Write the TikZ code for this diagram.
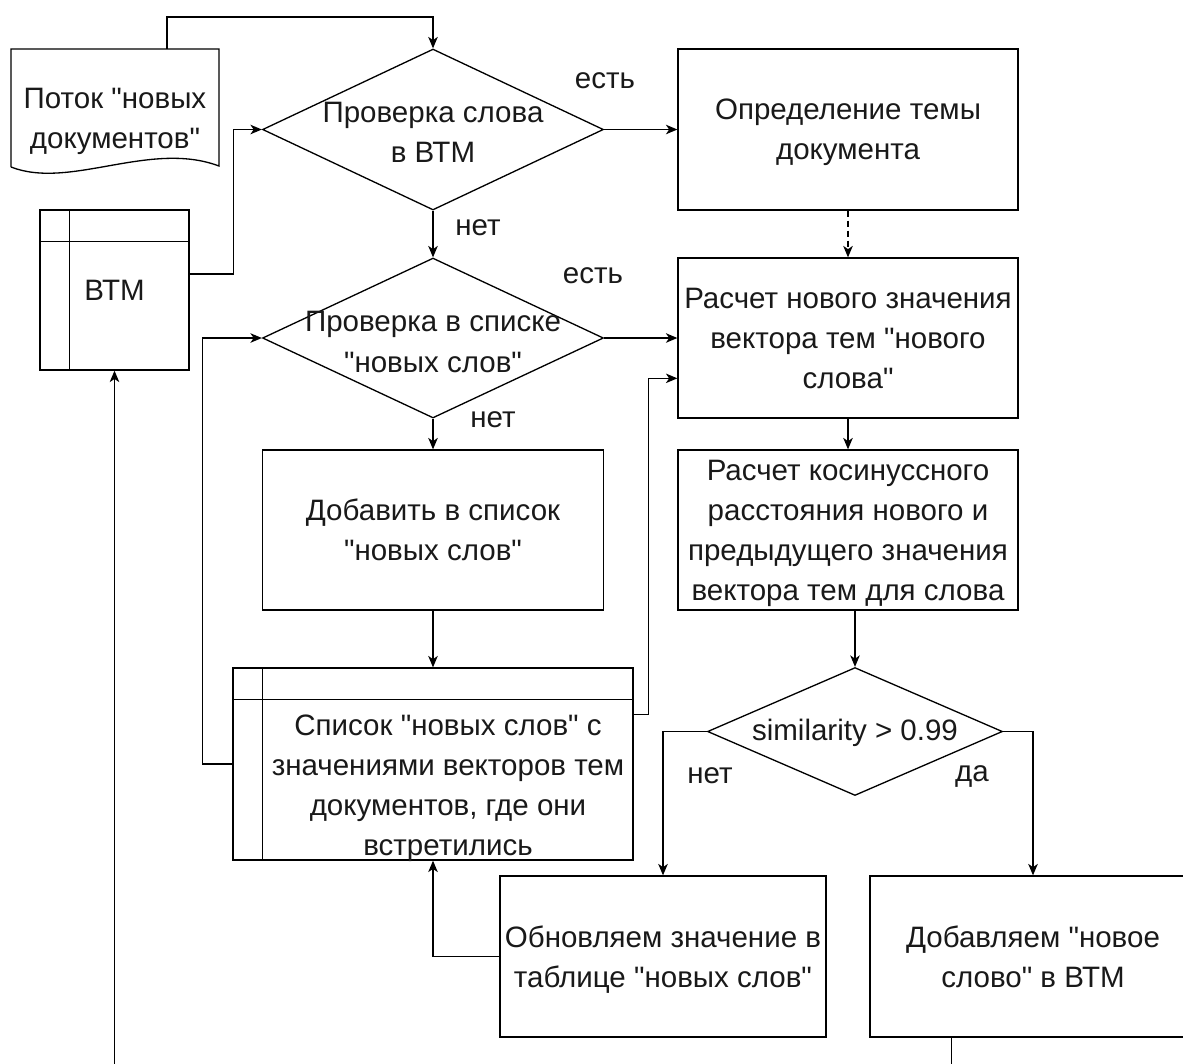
\documentclass[tikz,border=0pt]{standalone}
\usepackage{fontspec}
\setmainfont{Liberation Sans}[Ligatures=TeXOff]
\usetikzlibrary{arrows.meta,calc,shapes.geometric}

\begin{document}
\begin{tikzpicture}[x=0.02cm,y=-0.02cm,
  line width=0.75pt,
  txt/.style={font=\fontsize{16.8}{22.8}\selectfont, align=center, inner sep=0pt, text=black!90},
  box/.style={draw, rectangle, txt, text depth=0pt, minimum width=#1},
  box/.default=6.8cm,
  dec/.style={draw, diamond, inner sep=0pt},
  arr/.style={-{Stealth[length=6.5pt,width=5.4pt,inset=1.8pt]}},
  lbl/.style={txt}
]
\useasboundingbox (0,0) rectangle (1183,1063);

% --- input stream (document shape) ---
\draw (11,167) -- (11,49) -- (219,49) -- (219,166)
      .. controls (150,140) and (70,190) .. (11,167);
\coordinate (docTop) at (167,49);
\node[txt] (doctxt) at (115,121) {Поток "новых\\документов"};

% --- BTM table ---
\node[box=2.98cm, minimum height=3.2cm] (btm) at (114.5,290) {ВТМ};
\draw ($(btm.north west)+(0,32)$) -- ($(btm.north east)+(0,32)$);
\draw ($(btm.north west)+(30,0)$) -- ($(btm.south west)+(30,0)$);

% --- decisions ---
\node[dec, minimum width=6.82cm, minimum height=3.22cm] (d1) at (433,129.5) {};
\node[txt] (d1txt) at (433,132) {Проверка слова\\в ВТМ};
\node[dec, minimum width=6.82cm, minimum height=3.2cm] (d2) at (433,338) {};
\node[txt] (d2txt) at (433,342) {Проверка в списке\\"новых слов"};
\node[dec, minimum width=5.9cm, minimum height=2.56cm] (d3) at (855,731.5) {};
\node[txt] (d3txt) at (855,733) {similarity > 0.99};

% --- process boxes ---
\node[box, minimum height=3.22cm] (b1) at (848,129.5) {Определение темы\\документа};
\node[box, minimum height=3.2cm] (b2) at (848,338) {Расчет нового значения\\вектора тем "нового\\слова"};
\node[box=6.82cm, minimum height=3.2cm] (b3) at (433,530) {Добавить в список\\"новых слов"};
\node[box, minimum height=3.2cm] (b4) at (848,530) {Расчет косинуссного\\расстояния нового и\\предыдущего значения\\вектора тем для слова};
\node[box=6.52cm, minimum height=3.22cm] (b5) at (663,956.5) {Обновляем значение в\\таблице "новых слов"};
\node[box=6.52cm, minimum height=3.22cm] (b6) at (1033,956.5) {Добавляем "новое\\слово" в ВТМ};

% --- list of new words (table) ---
\node[draw, rectangle, minimum width=8cm, minimum height=3.84cm] (t2) at (433,764) {};
\draw ($(t2.north west)+(0,32)$) -- ($(t2.north east)+(0,32)$);
\draw ($(t2.north west)+(30,0)$) -- ($(t2.south west)+(30,0)$);
\node[txt] (t2txt) at (448,788) {Список "новых слов" с\\значениями векторов тем\\документов, где они\\встретились};

% --- branch labels ---
\node[lbl] (lEst1) at (605,81) {есть};
\node[lbl] (lNo1) at (478,228) {нет};
\node[lbl] (lEst2) at (593,276) {есть};
\node[lbl] (lNo2) at (493,420) {нет};
\node[lbl] (lNo3) at (710,776) {нет};
\node[lbl] (lYes) at (972,776) {да};

% --- connectors ---
\draw[arr] (docTop) -- ++(0,-32) -| (d1.north);
\draw[arr] ($(btm.north east)!0.4!(btm.south east)$) -- ++(44,0) |- (d1.west);
\draw[arr] (d1.south) -- (d2.north);
\draw[arr] (d1.east) -- (b1.west);
\draw[arr, dash pattern=on 3.4pt off 2.3pt] (b1.south) -- (b2.north);
\draw[arr] (d2.east) -- (b2.west);
\draw[arr] (d2.south) -- (b3.north);
\draw[arr] (b3.south) -- (t2.north);
\draw[arr] (t2.west) -- ++(-30,0) |- (d2.west);
\draw[arr] ($(t2.north east)!0.245!(t2.south east)$) -- ++(15,0) |- ($(b2.north west)!0.75!(b2.south west)$);
\draw[arr] (b2.south) -- (b4.north);
\draw[arr] (d3.north |- b4.south) -- (d3.north);
\draw[arr] (d3.west) -| (b5.north);
\draw[arr] (d3.east) -| (b6.north);
\draw[arr] (b5.west) -| (t2.south);
\draw[arr] ($(b6.south west)!0.25!(b6.south east)$) -- ++(0,50) -| (btm.south);
\end{tikzpicture}
\end{document}
